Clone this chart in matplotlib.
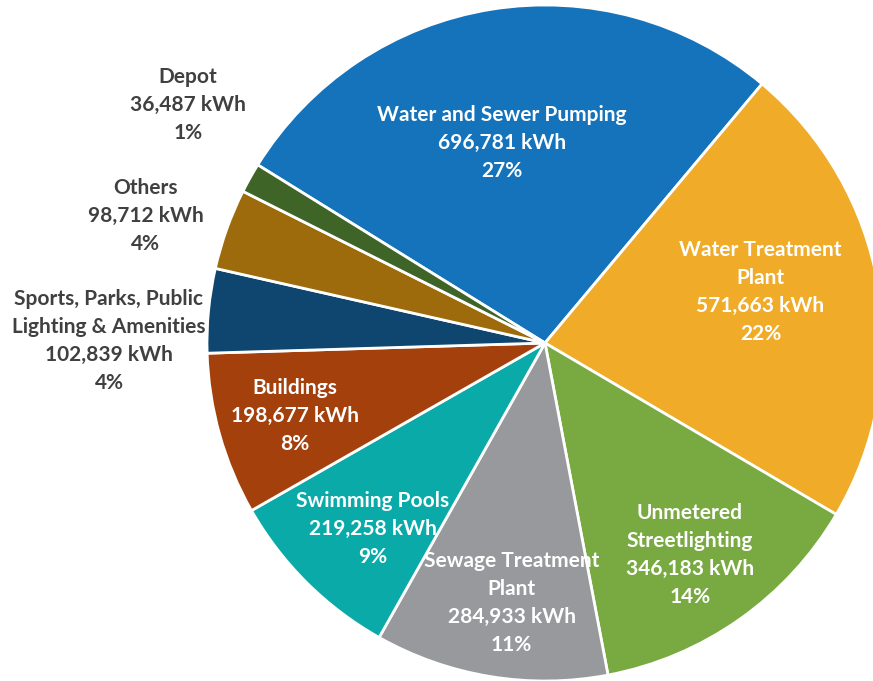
import matplotlib.pyplot as plt
import numpy as np

# energy use by category (kWh)
categories = ["Water and Sewer Pumping", "Water Treatment\nPlant", "Unmetered\nStreetlighting",
              "Sewage Treatment\nPlant", "Swimming Pools", "Buildings",
              "Sports, Parks, Public\nLighting & Amenities", "Others", "Depot"]
kwh = [696781, 571663, 346183, 284933, 219258, 198677, 102839, 98712, 36487]
pct_labels = ["27%", "22%", "14%", "11%", "9%", "8%", "4%", "4%", "1%"]

colors = ["#1573BC", "#F0AB28", "#79AA42", "#98999C", "#0AAAA9",
          "#A4400C", "#0E466F", "#9D6B0B", "#3F6428"]

# label placement: distance from centre (radius units) and angular nudge (deg)
lab_r = [0.605, 0.655, 0.76, 0.775, 0.75, 0.77, 1.29, 1.24, 1.27]
lab_shift = [3, 3.5, -0.8, 2, 2, 0.5, 5.2, 2, -4.5]
outside = [False, False, False, False, False, False, True, True, True]

plt.rcParams['font.family'] = ['Lato', 'DejaVu Sans']

fig = plt.figure(figsize=(8.73, 6.81), dpi=100)
ax = fig.add_axes([207 / 873, 0.0, 676 / 873, 676 / 681])

wedges, _ = ax.pie(kwh, colors=colors, startangle=148.2, counterclock=False, radius=1,
                   wedgeprops=dict(edgecolor='white', linewidth=2))
ax.set_xlim(-1, 1)
ax.set_ylim(-1, 1)
ax.set_aspect('equal')
ax.axis('off')

for i, w in enumerate(wedges):
    mid = np.deg2rad((w.theta1 + w.theta2) / 2 + lab_shift[i])
    x = lab_r[i] * np.cos(mid)
    y = lab_r[i] * np.sin(mid)
    txt = "%s\n%s kWh\n%s" % (categories[i], format(kwh[i], ','), pct_labels[i])
    col = '#404040' if outside[i] else 'white'
    ax.text(x, y, txt, ha='center', va='center', color=col, fontsize=15,
            fontweight='bold', linespacing=1.5, clip_on=False)

fig.savefig("out.png", dpi=100)
